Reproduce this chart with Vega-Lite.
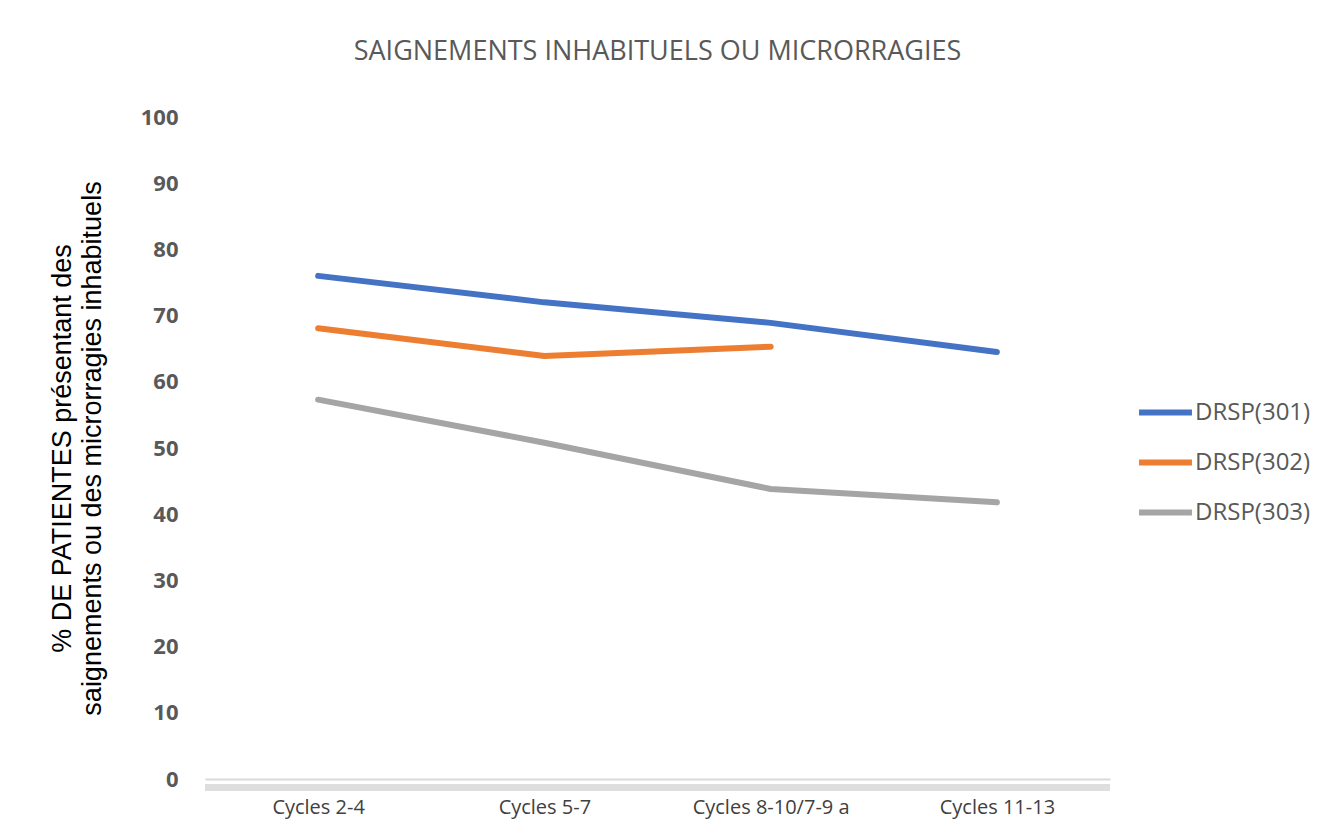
{
  "$schema": "https://vega.github.io/schema/vega-lite/v6.json",
  "width": 905,
  "height": 662,
  "autosize": {"type": "none"},
  "padding": {"left": 205, "top": 117, "right": 220, "bottom": 56},
  "background": "white",
  "title": {
    "text": "SAIGNEMENTS INHABITUELS OU MICRORRAGIES",
    "font": "Open Sans",
    "fontSize": 27,
    "fontWeight": "normal",
    "color": "#595959",
    "anchor": "middle",
    "offset": 40
  },
  "data": {
    "values": [
      {"serie": "DRSP(301)", "cycle": "Cycles 2-4", "valeur": 76.0},
      {"serie": "DRSP(301)", "cycle": "Cycles 5-7", "valeur": 72.0},
      {"serie": "DRSP(301)", "cycle": "Cycles 8-10/7-9 a", "valeur": 68.9},
      {"serie": "DRSP(301)", "cycle": "Cycles 11-13", "valeur": 64.5},
      {"serie": "DRSP(302)", "cycle": "Cycles 2-4", "valeur": 68.1},
      {"serie": "DRSP(302)", "cycle": "Cycles 5-7", "valeur": 63.9},
      {"serie": "DRSP(302)", "cycle": "Cycles 8-10/7-9 a", "valeur": 65.3},
      {"serie": "DRSP(303)", "cycle": "Cycles 2-4", "valeur": 57.3},
      {"serie": "DRSP(303)", "cycle": "Cycles 5-7", "valeur": 50.8},
      {"serie": "DRSP(303)", "cycle": "Cycles 8-10/7-9 a", "valeur": 43.8},
      {"serie": "DRSP(303)", "cycle": "Cycles 11-13", "valeur": 41.8}
    ]
  },
  "layer": [
    {
      "mark": {"type": "rule", "color": "#dedede", "strokeWidth": 6, "clip": false},
      "encoding": {"y": {"datum": -1.3, "type": "quantitative"}}
    },
    {
      "mark": {"type": "line", "strokeWidth": 6, "strokeCap": "round", "strokeJoin": "round"},
      "encoding": {
        "x": {
          "field": "cycle",
          "type": "nominal",
          "sort": ["Cycles 2-4", "Cycles 5-7", "Cycles 8-10/7-9 a", "Cycles 11-13"],
          "scale": {"type": "point", "padding": 0.5},
          "axis": {
            "title": null,
            "labelAngle": 0,
            "labelFont": "Open Sans",
            "labelFontSize": 20,
            "labelColor": "#404040",
            "labelPadding": 18,
            "ticks": false,
            "domainColor": "#d9d9d9",
            "domainWidth": 2,
            "grid": false
          }
        },
        "y": {
          "field": "valeur",
          "type": "quantitative",
          "scale": {"domain": [0, 100], "nice": false},
          "axis": {
            "title": ["% DE PATIENTES présentant des", "saignements ou des microrragies inhabituels"],
            "titleFont": "Liberation Sans",
            "titleFontSize": 27,
            "titleFontWeight": "normal",
            "titleColor": "#000000",
            "titlePadding": 34,
            "titleLineHeight": 30,
            "values": [0, 10, 20, 30, 40, 50, 60, 70, 80, 90, 100],
            "labelFont": "Open Sans",
            "labelFontSize": 22,
            "labelFontWeight": "bold",
            "labelColor": "#595959",
            "labelPadding": 27,
            "ticks": false,
            "domain": false,
            "grid": false
          }
        },
        "color": {
          "field": "serie",
          "type": "nominal",
          "scale": {
            "domain": ["DRSP(301)", "DRSP(302)", "DRSP(303)"],
            "range": ["#4472C4", "#ED7D31", "#A5A5A5"]
          },
          "legend": {
            "title": null,
            "orient": "none",
            "legendX": 931,
            "legendY": 266,
            "symbolType": "stroke",
            "symbolStrokeWidth": 6,
            "symbolSize": 2800,
            "labelFont": "Open Sans",
            "labelFontSize": 24,
            "labelColor": "#595959",
            "labelOffset": 0,
            "rowPadding": 8
          }
        }
      }
    }
  ],
  "config": {
    "view": {"stroke": null}
  }
}
